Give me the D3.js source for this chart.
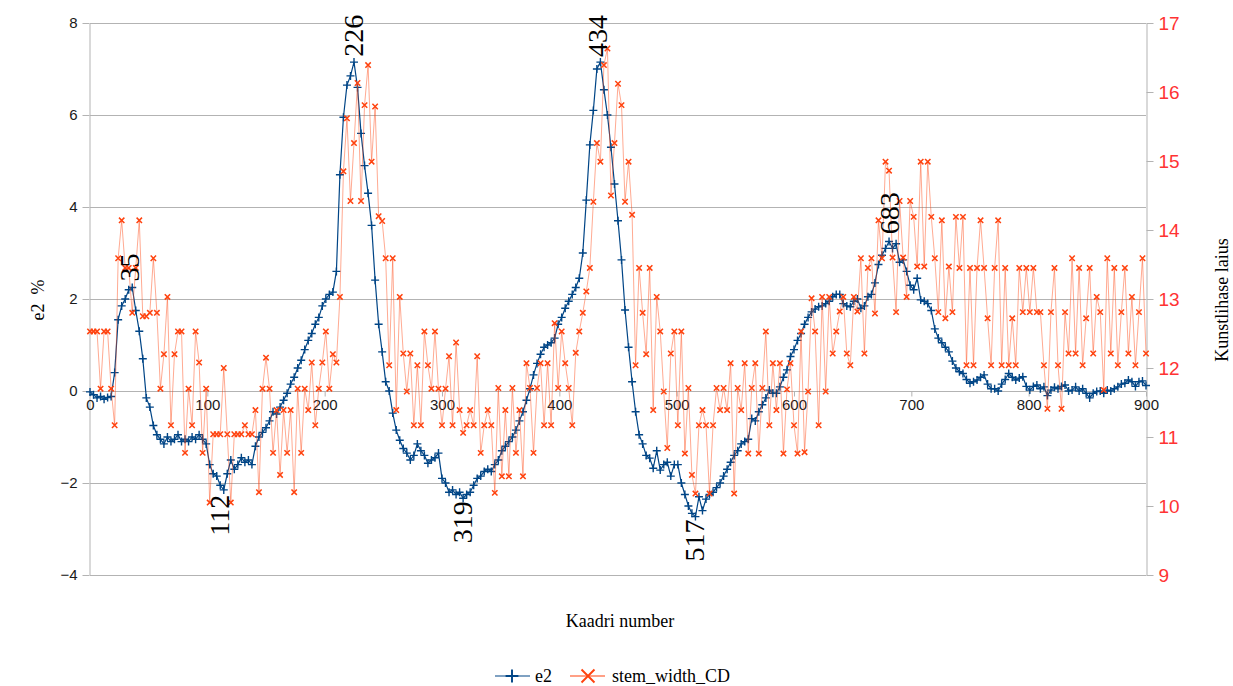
<!DOCTYPE html>
<html>
<head>
<meta charset="utf-8">
<title>e2 ja stem_width_CD</title>
<script src="https://d3js.org/d3.v7.min.js"></script>
<style>
  body { margin: 0; background: #fff; }
</style>
</head>
<body>
<div id="chart"></div>
<script>
// one value every 3 frames (frames 0..900)
const frameStep = 3;

const e2 = [
  -0.02,-0.08,-0.15,-0.12,-0.18,-0.14,-0.12,0.4,1.55,1.85,
  2.0,2.2,2.25,1.75,1.3,0.7,-0.15,-0.35,-0.75,-0.95,
  -1.05,-1.15,-1.0,-1.1,-1.05,-0.95,-1.1,-1.05,-1.1,-1.0,
  -1.05,-0.95,-1.05,-1.15,-1.6,-1.8,-1.85,-2.05,-2.15,-1.8,
  -1.5,-1.7,-1.6,-1.45,-1.55,-1.5,-1.6,-1.2,-1.0,-0.9,
  -0.8,-0.65,-0.45,-0.5,-0.35,-0.2,-0.05,0.15,0.3,0.5,
  0.67,0.9,1.1,1.25,1.45,1.6,1.85,2.0,2.1,2.15,
  2.6,4.7,5.95,6.65,6.85,7.15,6.6,5.6,4.9,4.3,
  3.6,2.41,1.45,0.85,0.2,0.0,-0.48,-0.85,-1.07,-1.25,
  -1.35,-1.5,-1.4,-1.15,-1.3,-1.4,-1.57,-1.5,-1.45,-1.35,
  -1.9,-2.0,-2.2,-2.15,-2.25,-2.2,-2.33,-2.25,-2.2,-2.05,
  -1.9,-1.85,-1.75,-1.7,-1.75,-1.6,-1.5,-1.3,-1.2,-1.1,
  -1.0,-0.85,-0.65,-0.45,-0.2,0.05,0.35,0.6,0.8,0.95,
  1.0,1.05,1.15,1.45,1.6,1.8,1.95,2.1,2.25,2.45,
  3.0,4.15,5.35,6.1,7.0,7.15,6.55,6.0,5.3,4.5,
  3.7,2.85,1.76,0.95,0.2,-0.45,-0.95,-1.15,-1.4,-1.46,
  -1.68,-1.3,-1.72,-1.6,-1.55,-1.85,-1.6,-1.6,-2.0,-2.25,
  -2.5,-2.66,-2.73,-2.3,-2.6,-2.35,-2.25,-2.2,-2.1,-2.0,
  -1.85,-1.7,-1.55,-1.4,-1.3,-1.15,-1.1,-1.05,-0.6,-0.65,
  -0.45,-0.3,-0.15,0.02,-0.05,-0.05,0.09,0.3,0.46,0.75,
  0.9,1.1,1.25,1.45,1.6,1.72,1.78,1.83,1.85,1.9,
  1.95,2.05,2.1,2.1,1.9,1.85,1.83,1.95,2.0,1.8,
  1.85,2.05,2.1,2.35,2.75,2.95,3.1,3.25,3.1,3.2,
  2.8,2.85,2.6,2.3,2.2,2.45,1.98,1.95,1.9,1.75,
  1.35,1.15,1.05,0.95,0.85,0.65,0.5,0.42,0.38,0.25,
  0.17,0.2,0.24,0.3,0.35,0.15,0.05,0.05,0.0,0.15,
  0.25,0.38,0.3,0.24,0.28,0.31,0.1,0.02,0.1,0.13,
  0.05,0.09,-0.1,0.02,0.08,0.05,0.1,0.13,0.0,0.02,
  0.09,0.0,0.05,-0.05,-0.15,-0.05,-0.01,0.0,-0.05,0.02,
  0.0,0.05,0.09,0.15,0.17,0.24,0.2,0.1,0.2,0.22,
  0.12
];

const stemWidth = [
  12.53,12.53,12.53,11.7,12.53,12.53,11.7,11.17,13.59,14.14,
  13.45,13.45,12.8,13.45,14.14,12.75,12.75,12.8,13.59,12.8,
  11.7,12.2,13.03,11.17,12.2,12.53,12.53,10.77,11.7,11.17,
  12.53,12.08,10.77,11.7,10.05,11.04,11.04,11.04,12.0,11.04,
  10.05,11.04,11.04,11.04,11.17,11.04,11.04,11.39,10.2,11.7,
  12.15,11.7,10.77,11.39,10.45,11.39,10.77,11.39,10.2,11.7,
  10.77,11.7,11.39,12.08,11.17,11.7,12.08,12.53,11.7,12.2,
  12.08,13.03,14.85,15.62,14.42,15.26,16.13,14.42,15.81,16.39,
  14.99,15.79,14.2,14.13,13.59,12.04,13.59,11.39,13.03,12.21,
  11.66,12.21,11.17,12.04,11.17,12.53,12.04,11.7,12.53,11.7,
  11.17,11.7,12.17,11.17,12.37,11.39,11.06,11.17,11.39,11.17,
  12.17,10.77,11.17,11.39,11.17,10.19,11.71,10.43,11.39,10.43,
  11.71,10.77,11.39,10.43,12.07,11.71,10.77,11.71,12.07,11.17,
  12.07,11.17,12.65,11.71,12.53,12.07,11.71,11.17,12.22,12.53,
  12.8,13.11,13.45,14.41,15.26,14.99,16.39,16.63,14.5,15.26,
  16.12,15.81,14.41,14.99,14.22,12.04,13.45,12.8,12.2,13.45,
  11.39,13.03,12.53,11.66,10.84,12.21,12.53,11.17,12.53,10.76,
  11.71,10.45,10.18,11.17,11.39,11.17,10.18,11.17,11.71,11.39,
  11.71,11.39,12.07,10.18,11.71,11.39,12.07,10.76,11.71,12.07,
  10.76,11.71,12.53,11.17,12.07,11.39,12.07,10.76,11.69,12.07,
  11.17,10.76,12.53,10.78,11.66,13.01,12.53,11.17,13.03,11.66,
  13.03,12.21,12.53,12.82,13.03,12.21,12.04,13.03,12.82,13.59,
  12.21,13.45,13.59,12.79,14.14,13.59,14.99,14.86,13.6,12.81,
  14.42,13.6,13.03,14.42,14.19,13.47,14.99,13.47,14.99,14.19,
  13.59,12.81,14.14,12.72,13.47,12.81,14.19,13.45,14.19,12.04,
  13.45,12.04,13.45,14.14,13.45,12.72,12.04,13.45,14.14,12.04,
  13.45,12.04,12.72,12.04,13.45,12.81,13.45,12.81,13.45,12.81,
  12.81,12.04,11.41,12.81,13.45,12.04,11.41,12.81,12.21,13.59,
  12.21,13.45,12.04,12.72,13.45,12.21,13.03,12.81,11.68,13.59,
  12.21,13.45,12.04,12.81,13.45,12.21,13.03,12.04,12.81,13.59,
  12.21
];

const xTicks = [0, 100, 200, 300, 400, 500, 600, 700, 800, 900];
const leftTicks = [-4, -2, 0, 2, 4, 6, 8];
const rightTicks = [9, 10, 11, 12, 13, 14, 15, 16, 17];

// frame numbers written at the extremes of e2
const labelFrames = [35, 226, 434, 683, 112, 319, 517];
const labelValues = [2.27, 7.16, 7.15, 3.3, -2.19, -2.33, -2.73];
const labelIsPeak = [true, true, true, true, false, false, false];

const width = 1233, height = 686;
const plot = {left: 90, right: 1146, top: 23, bottom: 575};

const blue = "#004586", orange = "#ff420e", grid = "#b3b3b3";
const sans = '"Liberation Sans", Arial, sans-serif';
const serif = '"Liberation Serif", "Times New Roman", serif';

const svg = d3.select("#chart").append("svg")
  .attr("width", width)
  .attr("height", height);

const x = d3.scaleLinear().domain([0, 900]).range([plot.left, plot.right]);
const y = d3.scaleLinear().domain([-4, 8]).range([plot.bottom, plot.top]);
const y2 = d3.scaleLinear().domain([9, 17]).range([plot.bottom, plot.top]);

// horizontal grid
svg.append("g").selectAll("line")
  .data(leftTicks)
  .join("line")
  .attr("x1", plot.left).attr("x2", plot.right)
  .attr("y1", d => Math.round(y(d)) + 0.5).attr("y2", d => Math.round(y(d)) + 0.5)
  .attr("stroke", grid).attr("stroke-width", 1);

// left axis
const gLeft = svg.append("g")
  .attr("transform", `translate(${plot.left - 0.5},0)`)
  .call(d3.axisLeft(y).tickValues(leftTicks).tickSize(7).tickSizeOuter(0).tickPadding(5));
gLeft.selectAll("path, line").attr("stroke", grid);
gLeft.selectAll("text").attr("font-size", 15).attr("fill", "#1a1a1a").attr("font-family", sans);

// right axis
const gRight = svg.append("g")
  .attr("transform", `translate(${plot.right + 0.5},0)`)
  .call(d3.axisRight(y2).tickValues(rightTicks).tickSize(7).tickSizeOuter(0).tickPadding(5));
gRight.selectAll("path, line").attr("stroke", grid);
gRight.selectAll("text").attr("font-size", 19).attr("fill", "#ff3333").attr("font-family", sans);

// x axis sits on the zero line
const gX = svg.append("g")
  .attr("transform", `translate(0,${Math.round(y(0)) + 0.5})`)
  .call(d3.axisBottom(x).tickValues(xTicks).tickSize(5).tickSizeOuter(0).tickPadding(3));
gX.select(".domain").remove();
gX.selectAll("line").attr("stroke", grid);
gX.selectAll("text").attr("font-size", 15).attr("fill", "#1a1a1a").attr("font-family", sans);

const e2Data = e2.map((v, i) => ({f: i * frameStep, v}));
const stemData = stemWidth.map((v, i) => ({f: i * frameStep, v}));

const plusPath = "M-4,0H4M0,-4V4";
const crossPath = "M-2.7,-2.7L2.7,2.7M-2.7,2.7L2.7,-2.7";

// e2 series
svg.append("path")
  .datum(e2Data)
  .attr("fill", "none")
  .attr("stroke", blue)
  .attr("stroke-width", 1.2)
  .attr("d", d3.line().x(d => x(d.f)).y(d => y(d.v)));

svg.append("g").selectAll("path")
  .data(e2Data)
  .join("path")
  .attr("transform", d => `translate(${x(d.f)},${y(d.v)})`)
  .attr("d", plusPath)
  .attr("stroke", blue)
  .attr("stroke-width", 1.4);

// stem width series (secondary axis)
svg.append("path")
  .datum(stemData)
  .attr("fill", "none")
  .attr("stroke", orange)
  .attr("stroke-opacity", 0.45)
  .attr("stroke-width", 1)
  .attr("d", d3.line().x(d => x(d.f)).y(d => y2(d.v)));

svg.append("g").selectAll("path")
  .data(stemData)
  .join("path")
  .attr("transform", d => `translate(${x(d.f)},${y2(d.v)})`)
  .attr("d", crossPath)
  .attr("stroke", orange)
  .attr("stroke-width", 1.5);

// frame labels at peaks and troughs
svg.append("g").selectAll("text")
  .data(labelFrames)
  .join("text")
  .attr("font-family", serif)
  .attr("font-size", 28)
  .attr("fill", "#000")
  .attr("dominant-baseline", "central")
  .attr("text-anchor", (d, i) => labelIsPeak[i] ? "start" : "end")
  .attr("transform", (d, i) => {
    const yy = labelIsPeak[i] ? y(labelValues[i]) - 5 : y(labelValues[i]) + 3;
    return `translate(${x(d) - 2},${yy}) rotate(-90)`;
  })
  .text(d => d);

// axis titles
svg.append("text").attr("font-family", serif)
  .attr("transform", "translate(38,300) rotate(-90)")
  .attr("text-anchor", "middle").attr("dominant-baseline", "central")
  .attr("font-size", 18)
  .text("e2\u00a0\u00a0%");

svg.append("text").attr("font-family", serif)
  .attr("transform", "translate(1222,300) rotate(-90)")
  .attr("text-anchor", "middle").attr("dominant-baseline", "central")
  .attr("font-size", 18)
  .text("Kunstlihase laius");

svg.append("text").attr("font-family", serif)
  .attr("x", 620).attr("y", 627)
  .attr("text-anchor", "middle")
  .attr("font-size", 18)
  .text("Kaadri number");

// legend
const legend = svg.append("g").attr("transform", "translate(0,676)");
legend.append("line").attr("x1", 495).attr("x2", 530).attr("y1", 0).attr("y2", 0)
  .attr("stroke", blue).attr("stroke-width", 1.2);
legend.append("path").attr("transform", "translate(512,0) scale(1.6)").attr("d", plusPath)
  .attr("stroke", blue).attr("stroke-width", 1.2);
legend.append("text").attr("font-family", serif).attr("x", 535).attr("y", 6)
  .attr("font-size", 18).text("e2");
legend.append("line").attr("x1", 570).attr("x2", 605).attr("y1", 0).attr("y2", 0)
  .attr("stroke", orange).attr("stroke-width", 1.2);
legend.append("path").attr("transform", "translate(588,0) scale(2.4)").attr("d", crossPath)
  .attr("stroke", orange).attr("stroke-width", 0.8);
legend.append("text").attr("font-family", serif).attr("x", 612).attr("y", 6)
  .attr("font-size", 18).text("stem_width_CD");
</script>
</body>
</html>
